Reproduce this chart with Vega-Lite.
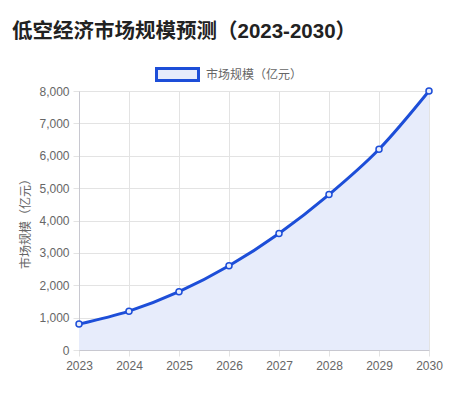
{
  "$schema": "https://vega.github.io/schema/vega-lite/v6.json",
  "autosize": {"type": "none"},
  "width": 350,
  "height": 259,
  "padding": {"left": 79, "top": 91, "right": 39, "bottom": 46},
  "background": "#ffffff",
  "title": {
    "text": "低空经济市场规模预测（2023-2030）",
    "anchor": "start",
    "frame": "group",
    "dx": -67,
    "offset": 10,
    "fontSize": 20.5,
    "fontWeight": "bold",
    "color": "#222222",
    "font": "Liberation Sans, Noto Sans CJK SC"
  },
  "data": {
    "values": [
      {"year": "2023", "value": 800, "series": "市场规模（亿元）"},
      {"year": "2024", "value": 1200, "series": "市场规模（亿元）"},
      {"year": "2025", "value": 1800, "series": "市场规模（亿元）"},
      {"year": "2026", "value": 2600, "series": "市场规模（亿元）"},
      {"year": "2027", "value": 3600, "series": "市场规模（亿元）"},
      {"year": "2028", "value": 4800, "series": "市场规模（亿元）"},
      {"year": "2029", "value": 6200, "series": "市场规模（亿元）"},
      {"year": "2030", "value": 8000, "series": "市场规模（亿元）"}
    ]
  },
  "encoding": {
    "x": {
      "field": "year",
      "type": "ordinal",
      "scale": {"type": "point", "padding": 0},
      "axis": {
        "title": null,
        "labelAngle": 0,
        "labelColor": "#666666",
        "labelFontSize": 12,
        "labelFont": "Liberation Sans",
        "labelPadding": 4,
        "grid": true,
        "gridColor": "#e3e3e3",
        "domainColor": "#c8c8d0",
        "tickColor": "#e3e3e3",
        "tickSize": 6
      }
    },
    "y": {
      "field": "value",
      "type": "quantitative",
      "scale": {"domain": [0, 8000], "nice": false},
      "axis": {
        "title": "市场规模（亿元）",
        "titleColor": "#666666",
        "titleFontSize": 12,
        "titleFontWeight": "normal",
        "titleFont": "Noto Sans CJK SC",
        "titlePadding": 6,
        "values": [0, 1000, 2000, 3000, 4000, 5000, 6000, 7000, 8000],
        "format": ",d",
        "labelColor": "#666666",
        "labelFontSize": 12,
        "labelFont": "Liberation Sans",
        "labelPadding": 4,
        "grid": true,
        "gridColor": "#e3e3e3",
        "domainColor": "#c8c8d0",
        "tickColor": "#e3e3e3",
        "tickSize": 6
      }
    }
  },
  "layer": [
    {
      "mark": {"type": "area", "interpolate": "monotone", "color": "#e7ecfb"},
      "encoding": {}
    },
    {
      "mark": {"type": "line", "interpolate": "monotone", "strokeWidth": 3},
      "encoding": {
        "color": {
          "field": "series",
          "type": "nominal",
          "scale": {"range": ["#1d4ed8"]},
          "legend": {
            "title": null,
            "orient": "none",
            "legendX": 76,
            "legendY": -39,
            "symbolType": "M-1,-0.29L1,-0.29L1,0.29L-1,0.29Z",
            "symbolSize": 1764,
            "symbolStrokeWidth": 3,
            "symbolFillColor": "#e7ecfb",
            "labelColor": "#666666",
            "labelFontSize": 12,
            "labelFont": "Noto Sans CJK SC",
            "labelOffset": 6
          }
        }
      }
    },
    {
      "mark": {"type": "point", "shape": "circle", "size": 36, "filled": false, "fill": "#e7ecfb", "stroke": "#1d4ed8", "strokeWidth": 1.5, "opacity": 1},
      "encoding": {}
    }
  ],
  "config": {"view": {"stroke": null}}
}
